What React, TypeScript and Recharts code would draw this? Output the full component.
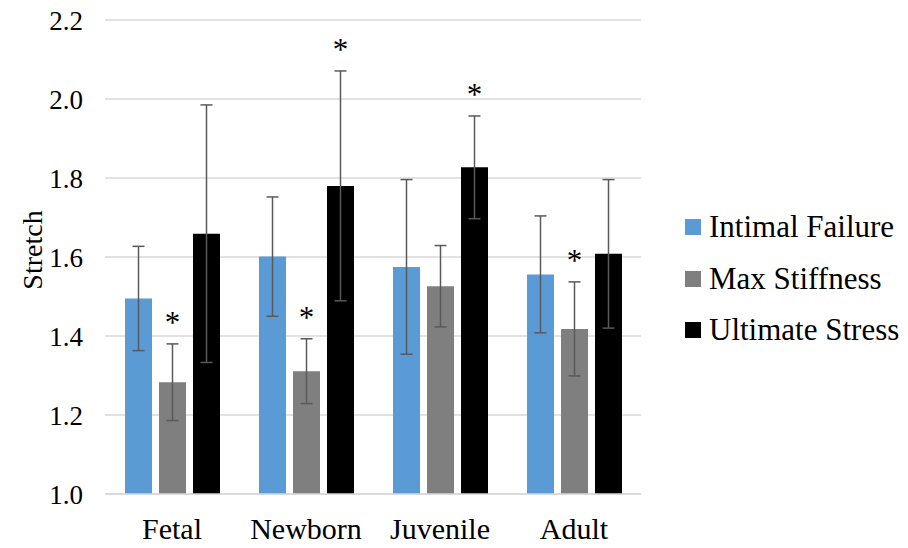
import { FC } from "react";
import {
  BarChart,
  Bar,
  XAxis,
  YAxis,
  CartesianGrid,
  ErrorBar,
  LabelList,
} from "recharts";

const categories = ["Fetal", "Newborn", "Juvenile", "Adult"];

const intimal = [1.495, 1.601, 1.575, 1.556];
const intimalErr = [0.132, 0.151, 0.221, 0.148];
const maxStiff = [1.283, 1.311, 1.526, 1.418];
const maxStiffErr = [0.097, 0.082, 0.103, 0.119];
const ultimate = [1.659, 1.78, 1.827, 1.608];
const ultimateErr = [0.326, 0.291, 0.13, 0.188];

// which bars carry a significance star
const maxStiffSig = [true, true, false, true];
const ultimateSig = [false, true, true, false];

const yTicks = [1.0, 1.2, 1.4, 1.6, 1.8, 2.0, 2.2];

const series = [
  { key: "intimal", name: "Intimal Failure", color: "#5B9BD5" },
  { key: "maxStiff", name: "Max Stiffness", color: "#7F7F7F" },
  { key: "ultimate", name: "Ultimate Stress", color: "#000000" },
];

const data = categories.map((name, i) => ({
  name,
  intimal: intimal[i],
  intimalErr: intimalErr[i],
  maxStiff: maxStiff[i],
  maxStiffErr: maxStiffErr[i],
  ultimate: ultimate[i],
  ultimateErr: ultimateErr[i],
}));

const FONT = "Liberation Serif, Times New Roman, DejaVu Serif, serif";
const BASE = 1.0;

// star drawn above the top of the error bar
const makeStar = (errs: number[], sig: boolean[]) => (props: any) => {
  const { x, y, width, height, value, index } = props;
  if (!sig[index]) return null;
  const pxPerUnit = height / (value - BASE);
  const errTop = y - errs[index] * pxPerUnit;
  return (
    <text
      x={x + width / 2}
      y={errTop - 11}
      textAnchor="middle"
      style={{ fontFamily: FONT }}
      fontSize={31}
      fill="#000"
    >
      *
    </text>
  );
};

const StretchLabel = (props: any) => {
  const { viewBox } = props;
  const x = 42;
  const y = viewBox.y + viewBox.height / 2 - 7;
  return (
    <text
      x={x}
      y={y}
      transform={`rotate(-90, ${x}, ${y})`}
      textAnchor="middle"
      style={{ fontFamily: FONT }}
      fontSize={28}
      fill="#000"
    >
      Stretch
    </text>
  );
};

const App: FC = () => {
  return (
    <div
      style={{
        position: "absolute",
        left: 0,
        top: 0,
        width: 908,
        height: 548,
        background: "#fff",
        fontFamily: FONT,
      }}
    >
      <BarChart
        width={908}
        height={548}
        data={data}
        margin={{ top: 20, right: 267, left: 0, bottom: 24 }}
        barCategoryGap={20}
        barGap={7}
        style={{ fontFamily: FONT }}
      >
        <CartesianGrid
          horizontal
          vertical={false}
          stroke="#D9D9D9"
          strokeWidth={1.3}
        />
        <XAxis
          dataKey="name"
          height={30}
          axisLine={{ stroke: "#D9D9D9", strokeWidth: 1.3 }}
          tickLine={false}
          tickSize={0}
          tickMargin={24}
          tick={{ fontSize: 30, fill: "#000", style: { fontFamily: FONT } }}
        />
        <YAxis
          width={105}
          domain={[1, 2.2]}
          ticks={yTicks}
          allowDataOverflow
          tickFormatter={(v: number) => v.toFixed(1)}
          axisLine={false}
          tickLine={false}
          tickSize={0}
          tickMargin={22}
          tick={{ fontSize: 27, fill: "#000", style: { fontFamily: FONT } }}
          label={<StretchLabel />}
        />
        <Bar dataKey="intimal" fill="#5B9BD5" isAnimationActive={false}>
          <ErrorBar
            dataKey="intimalErr"
            width={6}
            stroke="#595959"
            strokeWidth={1.5}
            direction="y"
          />
        </Bar>
        <Bar dataKey="maxStiff" fill="#7F7F7F" isAnimationActive={false}>
          <ErrorBar
            dataKey="maxStiffErr"
            width={6}
            stroke="#595959"
            strokeWidth={1.5}
            direction="y"
          />
          <LabelList
            dataKey="maxStiff"
            content={makeStar(maxStiffErr, maxStiffSig)}
          />
        </Bar>
        <Bar dataKey="ultimate" fill="#000000" isAnimationActive={false}>
          <ErrorBar
            dataKey="ultimateErr"
            width={6}
            stroke="#595959"
            strokeWidth={1.5}
            direction="y"
          />
          <LabelList
            dataKey="ultimate"
            content={makeStar(ultimateErr, ultimateSig)}
          />
        </Bar>
      </BarChart>
      {/* legend */}
      <div style={{ position: "absolute", left: 685, top: 0 }}>
        {series.map((s, i) => (
          <div
            key={s.key}
            style={{
              position: "absolute",
              top: 227 + i * 51.5 - 18,
              height: 36,
              display: "flex",
              alignItems: "center",
              whiteSpace: "nowrap",
            }}
          >
            <span
              style={{
                display: "inline-block",
                width: 16,
                height: 16,
                background: s.color,
                marginRight: 8,
              }}
            />
            <span
              style={{
                fontSize: 31,
                color: "#000",
                lineHeight: "36px",
                fontFamily: FONT,
              }}
            >
              {s.name}
            </span>
          </div>
        ))}
      </div>
    </div>
  );
};

export default App;
